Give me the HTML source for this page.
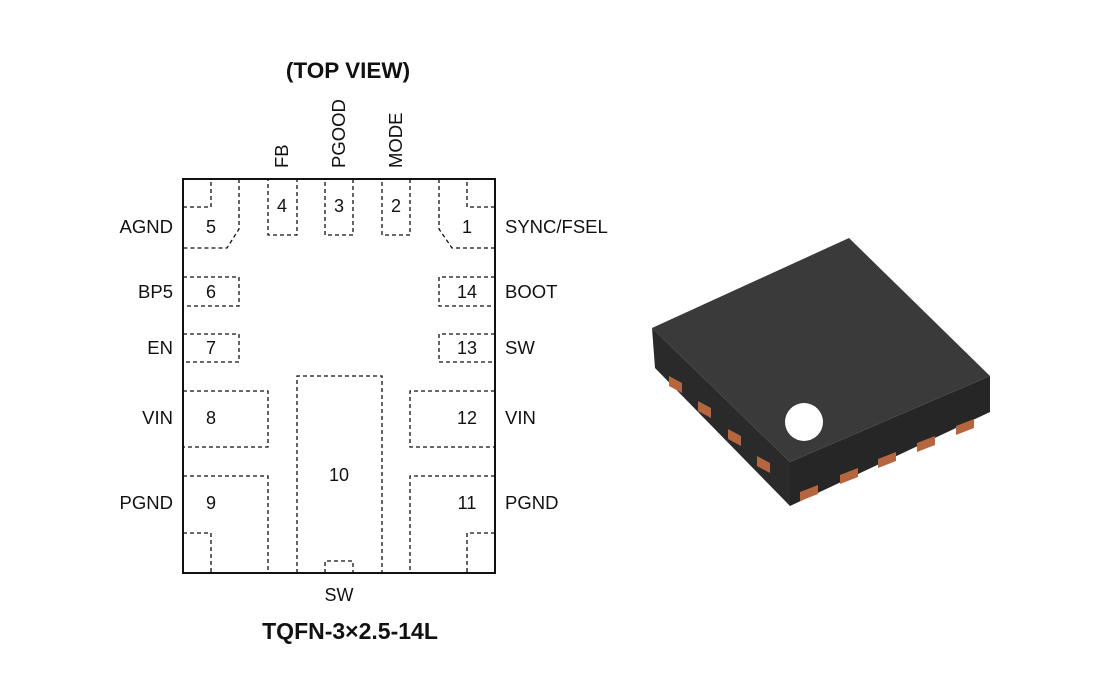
<!DOCTYPE html>
<html><head><style>
body{margin:0;background:#fff;width:1110px;height:675px;overflow:hidden}
svg text{font-family:"Liberation Sans",Arial,sans-serif;fill:#111}
</style></head><body>
<svg width="1110" height="675" viewBox="0 0 1110 675">
<g fill="none" stroke="#111" stroke-width="1.3" stroke-dasharray="4,3">
<path d="M183 207H211V179"/>
<path d="M239 179V229L227 248H183"/>
<rect x="268" y="179" width="29" height="56"/>
<rect x="325" y="179" width="28" height="56"/>
<rect x="382" y="179" width="28" height="56"/>
<path d="M439 179V229L452 248H495"/>
<path d="M495 207H467V179"/>
<path d="M183 277H239V306H183"/>
<path d="M183 334H239V362H183"/>
<path d="M495 277H439V306H495"/>
<path d="M495 334H439V362H495"/>
<path d="M183 391H268V447H183"/>
<path d="M183 476H268V573"/>
<path d="M183 533H211V573"/>
<path d="M297 573V376H382V573"/>
<path d="M325 573V561H353V573"/>
<path d="M495 391H410V447H495"/>
<path d="M495 476H410V573"/>
<path d="M495 533H467V573"/>
</g>
<rect x="183" y="179" width="312" height="394" fill="none" stroke="#111" stroke-width="2"/>
<g font-size="18" text-anchor="middle">
<text x="211" y="233">5</text><text x="282" y="212">4</text><text x="339" y="212">3</text><text x="396" y="212">2</text><text x="467" y="233">1</text>
<text x="211" y="298">6</text><text x="211" y="354">7</text><text x="467" y="298">14</text><text x="467" y="354">13</text>
<text x="211" y="424">8</text><text x="467" y="424">12</text><text x="339" y="481">10</text><text x="211" y="509">9</text><text x="467" y="509">11</text>
<text x="339" y="601">SW</text>
</g>
<g font-size="18.5" text-anchor="end">
<text x="173" y="233">AGND</text><text x="173" y="298">BP5</text><text x="173" y="354">EN</text><text x="173" y="424">VIN</text><text x="173" y="509">PGND</text>
</g>
<g font-size="18.5">
<text x="505" y="233">SYNC/FSEL</text><text x="505" y="298">BOOT</text><text x="505" y="354">SW</text><text x="505" y="424">VIN</text><text x="505" y="509">PGND</text>
</g>
<g font-size="18.5">
<text transform="translate(288,168) rotate(-90)">FB</text>
<text transform="translate(345,168) rotate(-90)">PGOOD</text>
<text transform="translate(402,168) rotate(-90)">MODE</text>
</g>
<text x="348" y="78" font-size="22.5" font-weight="bold" text-anchor="middle">(TOP VIEW)</text>
<text x="350" y="639" font-size="23" font-weight="bold" text-anchor="middle">TQFN-3×2.5-14L</text>
<!-- chip -->
<polygon points="652,328 790,462 790,506 655,368" fill="#2a2a2a"/>
<polygon points="790,462 990,376 990,412 790,506" fill="#262626"/>
<polygon points="652,328 849,238 990,376 790,462" fill="#3a3a3a"/>
<g fill="#b5663f">
<polygon points="669,376 682,383 682,393 669,386"/>
<polygon points="698,401 711,408 711,418 698,411"/>
<polygon points="728,429 741,436 741,446 728,439"/>
<polygon points="757,456 770,463 770,473 757,466"/>
<polygon points="800,492 818,485 818,494 800,501"/>
<polygon points="840,475 858,468 858,477 840,484"/>
<polygon points="878,459 896,452 896,461 878,468"/>
<polygon points="917,443 935,436 935,445 917,452"/>
<polygon points="956,426 974,419 974,428 956,435"/>
</g>
<circle cx="804" cy="422" r="19" fill="#fff"/>
</svg>
</body></html>
